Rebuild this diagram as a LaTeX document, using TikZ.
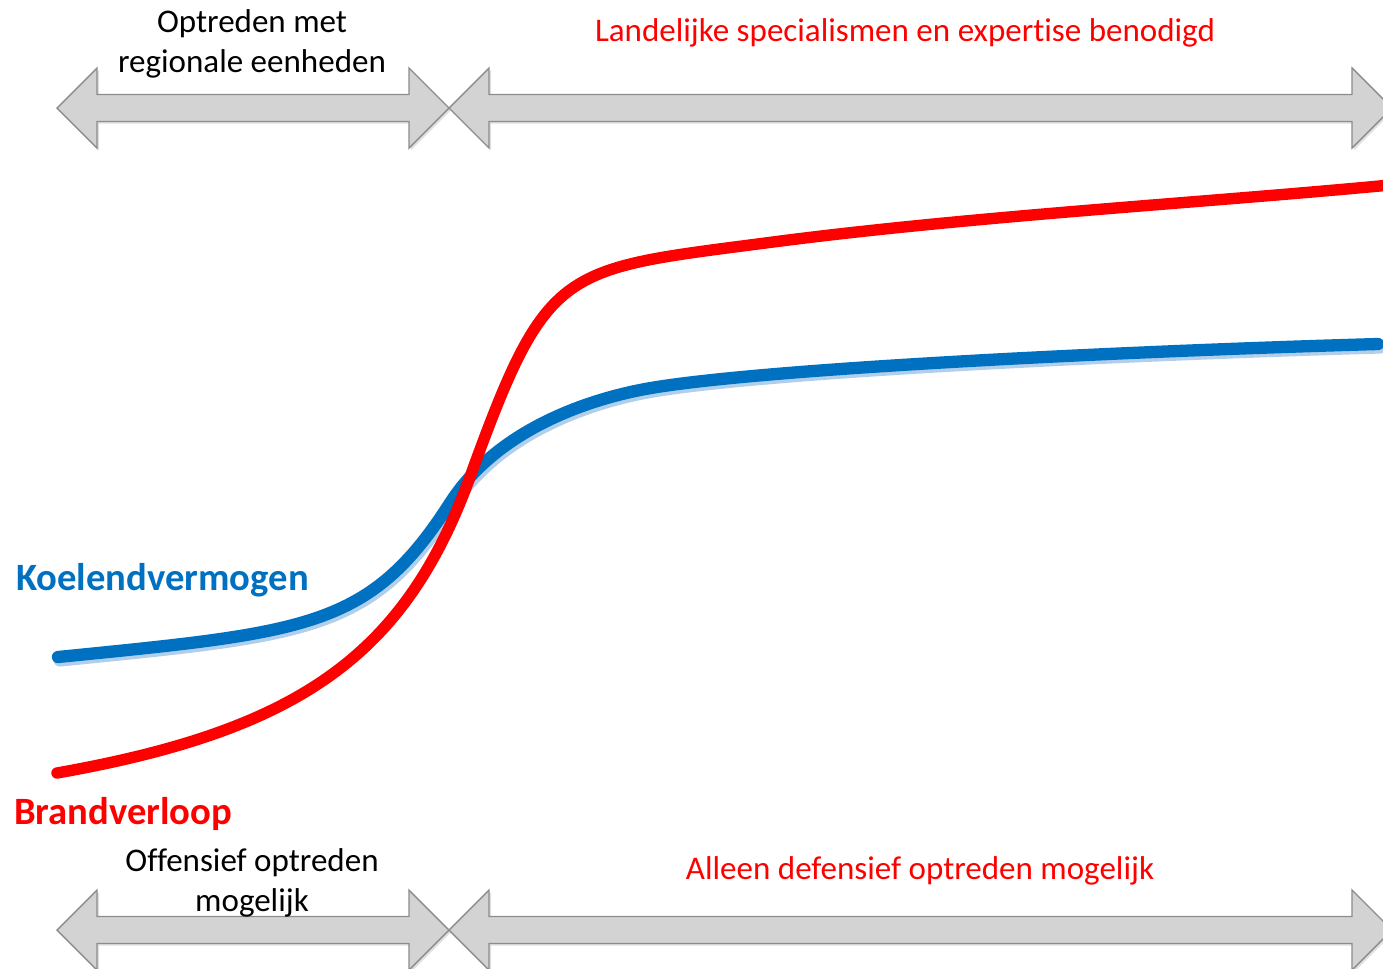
\documentclass[tikz,border=0pt]{standalone}
\usepackage{fontspec}
\setmainfont{Carlito}[Ligatures=NoCommon]
\usetikzlibrary{shadows}
\definecolor{koelblauw}{HTML}{0070C0}
\definecolor{glowblauw}{HTML}{9DC3E6}
\definecolor{pijlgrijs}{HTML}{D3D3D3}
\definecolor{randgrijs}{HTML}{8C8C8C}
\tikzset{
  pijl/.style={fill=pijlgrijs, draw=randgrijs, line width=0.8pt, line join=miter,
    drop shadow={shadow xshift=1.2pt, shadow yshift=-1.2pt, opacity=0.25}},
  fase/.style={font=\fontsize{18.8}{22.8}\selectfont, align=center},
  curvelabel/.style={font=\fontsize{22}{26}\selectfont\bfseries, anchor=base west},
  koelcurve/.style={koelblauw, line width=7pt, line cap=round},
  glowcurve/.style={glowblauw, line width=7.5pt, line cap=round, opacity=0.8},
  brandcurve/.style={red, line width=6.5pt, line cap=round}
}
\begin{document}
\begin{tikzpicture}
[x=0.02cm, y=-0.02cm]
\useasboundingbox (0,0) rectangle (1383,968);
\clip (0,0) rectangle (1383,968);
\draw[pijl] (57,108) -- ++(40,-40) -- ++(0,26.5) -- (409,94.5) -- ++(0,-26.5) -- (449,108) -- ++(-40,40) -- ++(0,-26.5) -- (97,121.5) -- ++(0,26.5) -- cycle;
\draw[pijl] (449,108) -- ++(40,-40) -- ++(0,26.5) -- (1352,94.5) -- ++(0,-26.5) -- (1392,108) -- ++(-40,40) -- ++(0,-26.5) -- (489,121.5) -- ++(0,26.5) -- cycle;
\draw[pijl] (57,930) -- ++(40,-40) -- ++(0,26.5) -- (409,916.5) -- ++(0,-26.5) -- (449,930) -- ++(-40,40) -- ++(0,-26.5) -- (97,943.5) -- ++(0,26.5) -- cycle;
\draw[pijl] (449,930) -- ++(40,-40) -- ++(0,26.5) -- (1352,916.5) -- ++(0,-26.5) -- (1392,930) -- ++(-40,40) -- ++(0,-26.5) -- (489,943.5) -- ++(0,26.5) -- cycle;
\draw[glowcurve, shift={(2,3)}] (58,657) .. controls (308,632) and (370,628) .. (450,503) .. controls (495,433) and (580,402) .. (640,390) .. controls (740,370) and (1100,352) .. (1378,344);
\draw[koelcurve] (58,657) .. controls (308,632) and (370,628) .. (450,503) .. controls (495,433) and (580,402) .. (640,390) .. controls (740,370) and (1100,352) .. (1378,344);
\draw[brandcurve] (57,773) .. controls (300,730) and (405,655) .. (470,477) .. controls (548,262) and (560,270) .. (773,242) .. controls (973,216) and (1200,203) .. (1390,185);
\node[fase] (regionaal) at (252,44) {Optreden met\\regionale eenheden};
\node[fase, text=red] (landelijk) at (905,33) {Landelijke specialismen en expertise benodigd};
\node[curvelabel, text=koelblauw] (koelend) at (10,590) {Koelendvermogen};
\node[curvelabel, text=red] (brand) at (8,824) {Brandverloop};
\node[fase] (offensief) at (252,883) {Offensief optreden\\mogelijk};
\node[fase, text=red] (defensief) at (920,871) {Alleen defensief optreden mogelijk};
\end{tikzpicture}
\end{document}
